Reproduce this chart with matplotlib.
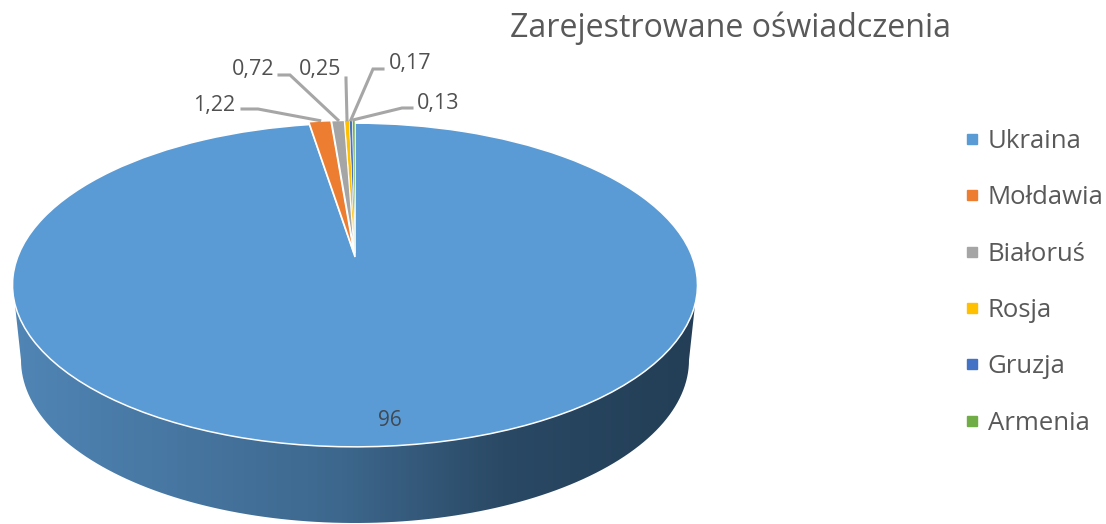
import numpy as np
import matplotlib
matplotlib.use('Agg')
import matplotlib.pyplot as plt
from matplotlib.lines import Line2D
from matplotlib.patches import PathPatch
from matplotlib.path import Path
from matplotlib.transforms import Transform

plt.rcParams['font.family'] = ['Open Sans', 'DejaVu Sans']

countries = ['Ukraina', 'Mołdawia', 'Białoruś', 'Rosja', 'Gruzja', 'Armenia']
values = [96, 1.22, 0.72, 0.25, 0.17, 0.13]
value_labels = ['96', '1,22', '0,72', '0,25', '0,17', '0,13']
colors = ['#5B9BD5', '#ED7D31', '#A5A5A5', '#FFC000', '#4472C4', '#70AD47']

# where the pie centre sits in pixels and how the tilt squashes it
cx, cy = 355, 257
sx, sy, tilt = 337.3, 157, 0.173


class Tilt(Transform):
    # unit circle -> tilted disc in picture pixels
    input_dims = 2
    output_dims = 2

    def transform_non_affine(self, xy):
        xy = np.asarray(xy)
        w = 1 + tilt * xy[:, 1]
        return np.column_stack((cx + sx * xy[:, 0] / w, cy - sy * xy[:, 1] / w))


tilted = Tilt()

fig = plt.figure(figsize=(11.06, 5.24), dpi=100)
ax = fig.add_axes([0, 0, 1, 1])

wedges, _ = ax.pie(values, colors=colors, startangle=90, counterclock=False,
                   explode=[0, 0.025, 0.025, 0.025, 0.025, 0.025],
                   wedgeprops={'edgecolor': 'white', 'linewidth': 1.1})
ax.set_aspect('auto')
ax.set_xlim(0, 1106)
ax.set_ylim(524, 0)
ax.axis('off')
for i, w in enumerate(wedges):
    w.set_transform(tilted + ax.transData)
    w.set_zorder(3)
    if i > 2:
        w.set_linewidth(0.4)

# side of the disc, gradient clipped to the rim shape
t = np.linspace(np.pi, 0, 120)
rim_x = list(355 + 334 * np.cos(t))
rim_y = list(360 + 163 * np.sin(t))
side = Path(list(zip([15] + rim_x + [695], [305] + rim_y + [305])))
grad = np.array([[0.0, 0.0], [0.48, 0.42], [0.72, 0.85], [1.0, 1.0]])
shade = np.interp(np.linspace(0, 1, 400), grad[:, 0], grad[:, 1])
left, right = np.array([0x50, 0x85, 0xB5]), np.array([0x23, 0x3E, 0x56])
img = (left + (right - left) * shade[:, None]) / 255
im = ax.imshow(img[None, :, :], extent=(12, 697, 524, 290), aspect='auto', zorder=1)
clip = PathPatch(side, transform=ax.transData, fc='none', ec='none')
ax.add_patch(clip)
im.set_clip_path(clip)
ax.set_xlim(0, 1106)
ax.set_ylim(524, 0)

# label text anchor, then the elbow of its leader line
label_pos = [None, (214, 105), (253, 70), (320, 70), (410, 63), (438, 103)]
elbow = [None, [(242, 109), (258, 109)], [(279, 75), (290, 75)], [(346, 78), (346, 80)],
         [(383, 69), (373, 69)], [(412, 108), (402, 108)]]
for i, w in enumerate(wedges):
    if i == 0:
        continue
    mid = np.deg2rad((w.theta1 + w.theta2) / 2)
    end = tilted.transform(np.array([[1.03 * np.cos(mid), 1.03 * np.sin(mid)]]))[0]
    pts = np.array(elbow[i] + [tuple(end)])
    ax.plot(pts[:, 0], pts[:, 1], color='#A6A6A6', lw=2.2, zorder=4, solid_joinstyle='miter')
    ax.text(label_pos[i][0], label_pos[i][1], value_labels[i], color='#505050',
            fontsize=15.5, ha='center', va='center', zorder=5)

ax.text(390, 421, value_labels[0], color='#404952', fontsize=15, ha='center', va='center', zorder=5)
ax.text(730, 28, 'Zarejestrowane oświadczenia', color='#595959', fontsize=23.1, ha='center', va='center')

handles = [Line2D([], [], ls='', marker='s', ms=7.5, color=c) for c in colors]
fig.legend(handles, countries, loc='upper left', bbox_to_anchor=(0.8675, 0.754), frameon=False,
           fontsize=18.5, labelcolor='#595959', handlelength=1, handletextpad=0.1,
           labelspacing=1.22, borderpad=0, borderaxespad=0)

plt.savefig('out.png', dpi=100)
